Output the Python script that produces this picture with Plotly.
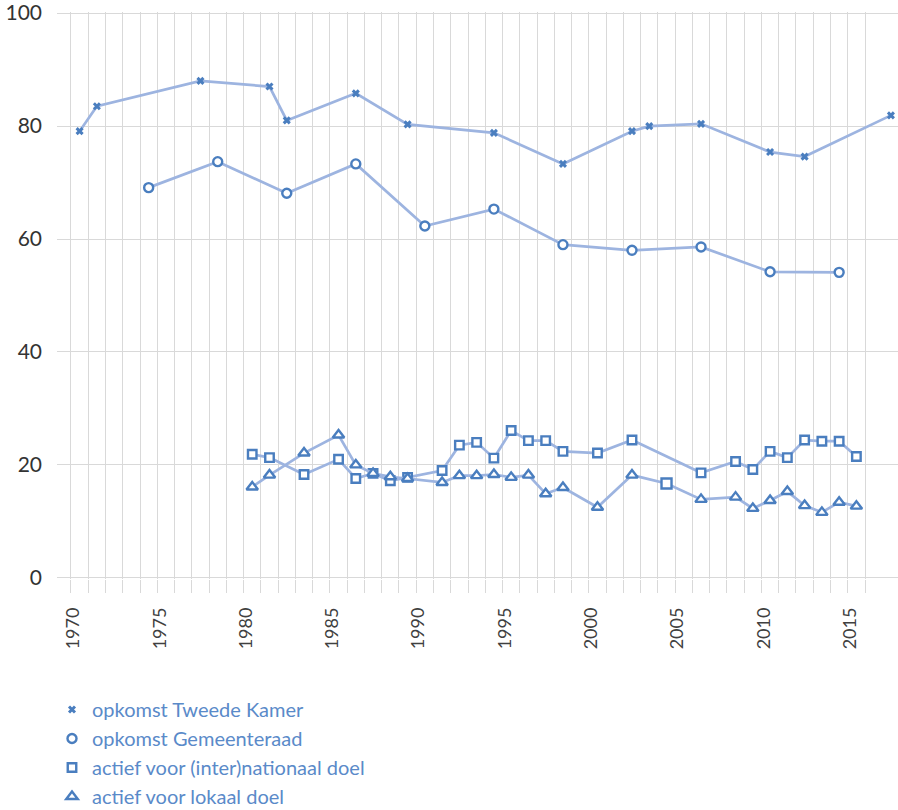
import plotly.graph_objects as go

# ---- data ----
tk_years = [1970, 1971, 1977, 1981, 1982, 1986, 1989, 1994, 1998, 2002, 2003, 2006, 2010, 2012, 2017]
tk_values = [79.1, 83.5, 88.0, 87.0, 81.0, 85.8, 80.3, 78.8, 73.3, 79.1, 80.0, 80.4, 75.4, 74.6, 81.9]

gr_years = [1974, 1978, 1982, 1986, 1990, 1994, 1998, 2002, 2006, 2010, 2014]
gr_values = [69.1, 73.7, 68.1, 73.3, 62.3, 65.3, 59.0, 58.0, 58.6, 54.2, 54.1]

nat_years = [1980, 1981, 1983, 1985, 1986, 1987, 1988, 1989, 1991, 1992, 1993, 1994, 1995, 1996, 1997,
             1998, 2000, 2002, 2006, 2008, 2009, 2010, 2011, 2012, 2013, 2014, 2015]
nat_values = [21.9, 21.3, 18.3, 21.0, 17.6, 18.5, 17.2, 17.8, 19.0, 23.5, 24.0, 21.2, 26.1, 24.3, 24.3,
              22.4, 22.1, 24.4, 18.6, 20.6, 19.2, 22.4, 21.3, 24.4, 24.2, 24.2, 21.5]

lok_years = [1980, 1981, 1983, 1985, 1986, 1987, 1988, 1989, 1991, 1992, 1993, 1994, 1995, 1996, 1997,
             1998, 2000, 2002, 2004, 2006, 2008, 2009, 2010, 2011, 2012, 2013, 2014, 2015]
lok_values = [16.1, 18.2, 22.1, 25.3, 20.0, 18.5, 17.9, 17.6, 16.9, 18.1, 18.1, 18.3, 17.8, 18.2, 14.9,
              16.0, 12.5, 18.2, 16.7, 13.9, 14.3, 12.3, 13.7, 15.3, 12.8, 11.6, 13.4, 12.7]

series_names = ["opkomst Tweede Kamer", "opkomst Gemeenteraad",
                "actief voor (inter)nationaal doel", "actief voor lokaal doel"]

x_tick_years = [1970, 1975, 1980, 1985, 1990, 1995, 2000, 2005, 2010, 2015]
y_ticks = [0, 20, 40, 60, 80, 100]

# ---- style ----
LINE_COLOR = "#9DB4E0"
MARK_COLOR = "#4A7EBF"
GRID = "#D9D9D9"
TEXT_BLUE = "#5A8AC9"
FONT = "Lato, 'Noto Sans', sans-serif"

X_RANGE = [1968.69, 2017.41]
Y_RANGE = [-0.2, 100.2]
LABEL_SHIFT = 0.36     # years: nudges rotated x labels like the reference

lok_symbols = ["square" if y == 2004 else "triangle-up" for y in lok_years]

specs = [
    (tk_years, tk_values, "x-thin", 6, 3.0, None),
    (gr_years, gr_values, "circle", 9, 2.4, None),
    (nat_years, nat_values, "square", 8.5, 2.4, None),
    (lok_years, lok_values, "triangle-up", 10, 2.4, lok_symbols),
]

fig = go.Figure()

for (xs, ys, sym, size, lw, symarr), name in zip(specs, series_names):
    fig.add_trace(go.Scatter(
        x=xs, y=ys, mode="lines+markers", name=name, showlegend=False,
        line=dict(color=LINE_COLOR, width=2.7),
        marker=dict(symbol=symarr if symarr else sym, size=size, color="white",
                    line=dict(color=MARK_COLOR, width=lw)),
        hoverinfo="x+y",
    ))

# legend-only entries (markers without line sample); placed on the label axis
for (xs, ys, sym, size, lw, symarr), name in zip(specs, series_names):
    fig.add_trace(go.Scatter(
        x=[None], y=[None], mode="markers", name=name, showlegend=True,
        xaxis="x2", yaxis="y",
        marker=dict(symbol=sym, size=size, color="white",
                    line=dict(color=MARK_COLOR, width=lw)),
    ))

boundaries = [y - 0.5 for y in range(1970, 2017)]

fig.update_layout(
    width=898, height=810,
    margin=dict(l=56.7, r=0, t=12.2, b=230.6, autoexpand=False),
    paper_bgcolor="white", plot_bgcolor="white",
    font=dict(family=FONT, color="#404040"),
    xaxis=dict(
        range=X_RANGE, tickmode="array", tickvals=boundaries,
        ticktext=["" for _ in boundaries], showticklabels=False,
        showgrid=True, gridcolor=GRID, gridwidth=1.3,
        ticks="outside", ticklen=13, tickcolor=GRID, tickwidth=1.3,
        zeroline=False, showline=False, fixedrange=True,
    ),
    xaxis2=dict(
        overlaying="x", anchor="y", side="bottom",
        range=[X_RANGE[0] + LABEL_SHIFT, X_RANGE[1] + LABEL_SHIFT],
        tickmode="array", tickvals=x_tick_years,
        ticktext=[str(v) for v in x_tick_years],
        tickangle=-90, showgrid=False, zeroline=False, showline=False,
        ticks="", ticklabelstandoff=24, fixedrange=True,
        tickfont=dict(family=FONT, size=18, color="#404040"),
    ),
    yaxis=dict(
        range=Y_RANGE, tickmode="array", tickvals=y_ticks,
        showgrid=True, gridcolor=GRID, gridwidth=1.3,
        zeroline=False, showline=False, ticks="",
        ticklabelstandoff=14, fixedrange=True, ticklabeloverflow="allow",
        tickfont=dict(family=FONT, size=21, color="#333333"),
    ),
    legend=dict(
        xref="container", yref="container",
        x=52 / 898, y=1 - 690 / 810, xanchor="left", yanchor="top",
        orientation="v", bgcolor="rgba(0,0,0,0)",
        font=dict(family="Lato, sans-serif", size=20, color=TEXT_BLUE),
    ),
)

fig.write_html(
    "out.html",
    config={"displayModeBar": False},
    post_script="document.body.style.margin='0';document.body.style.overflow='hidden';",
)
